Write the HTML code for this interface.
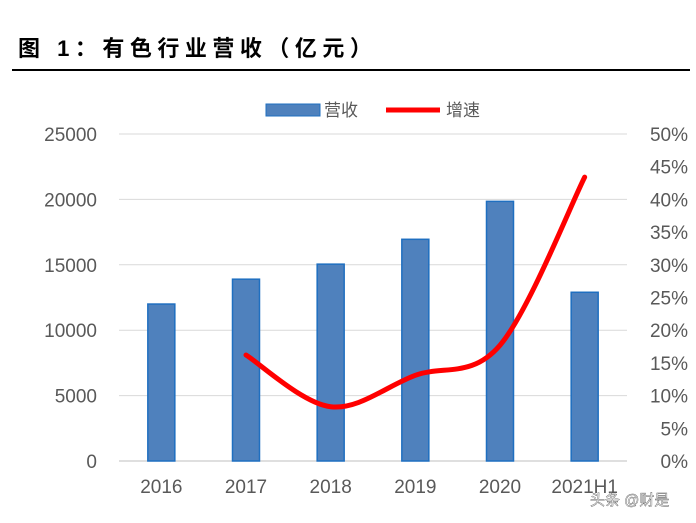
<!DOCTYPE html>
<html><head><meta charset="utf-8">
<style>
body{margin:0;background:#fff;width:696px;height:518px;overflow:hidden;font-family:"Liberation Sans","Noto Sans CJK SC",sans-serif;}
svg text{font-family:"Liberation Sans","Noto Sans CJK SC",sans-serif;}
</style></head><body>
<svg id="c" width="696" height="518">
<text x="18" y="56" font-size="22" font-weight="bold" letter-spacing="5.5" fill="#000">图 1：有色行业营收（亿元）</text>
<line x1="12" y1="70" x2="690" y2="70" stroke="#000" stroke-width="2"/>
<g id="grid"></g><g id="bars"></g><g id="line"></g><g id="axes"></g>
<g>
<rect x="266" y="104" width="54" height="12" fill="#4f81bd" stroke="#1f6fc0"/>
<text x="324" y="116" font-size="17" fill="#595959">营收</text>
<line x1="386" y1="110" x2="440" y2="110" stroke="#f00" stroke-width="5"/>
<text x="446" y="116" font-size="17" fill="#595959">增速</text>
</g>
<text x="590" y="505" font-size="15" fill="#fff" stroke="#555" stroke-width="0.4">头条 @财是</text>
</svg>
<script>
const categories=["2016","2017","2018","2019","2020","2021H1"];
const revenue=[12000,13900,15050,16950,19850,12900];
const growth=[null,16.2,8.3,13.1,17.7,43.4];
const leftTicks=[0,5000,10000,15000,20000,25000];
const rightTicks=[0,5,10,15,20,25,30,35,40,45,50];
const NS="http://www.w3.org/2000/svg";
const X0=119,X1=627,Y0=461,Y1=134;
const step=(X1-X0)/categories.length;
const xc=i=>X0+step*(i+0.5);
const yL=v=>Y0-(v/25000)*(Y0-Y1);
const yR=v=>Y0-(v/50)*(Y0-Y1);
function mk(t,a,p){const e=document.createElementNS(NS,t);for(const k in a)e.setAttribute(k,a[k]);p.appendChild(e);return e;}
const g=document.getElementById('grid'),b=document.getElementById('bars'),ln=document.getElementById('line'),ax=document.getElementById('axes');
leftTicks.forEach(v=>{
 const l=mk('line',{x1:X0,x2:X1,y1:yL(v),y2:yL(v),stroke:v===0?'#bfbfbf':'#d9d9d9','stroke-width':1},g);
 
 
 const t=mk('text',{x:97,y:yL(v)+7,'font-size':19,fill:'#595959','text-anchor':'end'},ax);t.textContent=v;
 
 
});
rightTicks.forEach(v=>{
 const t=mk('text',{x:688,y:yR(v)+7,'font-size':19,fill:'#595959','text-anchor':'end'},ax);t.textContent=v+'%';
 
 
});
categories.forEach((c,i)=>{
 const r=mk('rect',{x:xc(i)-13.5,y:yL(revenue[i]),width:27,height:Y0-yL(revenue[i]),fill:'#4f81bd',stroke:'#1f6fc0','stroke-width':1.5},b);
 
 
 const t=mk('text',{x:xc(i),y:493,'font-size':19,fill:'#595959','text-anchor':'middle'},ax);t.textContent=c;
 
 
});
const pts=[];growth.forEach((v,i)=>{if(v!==null)pts.push([xc(i),yR(v)]);});
let d='M'+pts[0][0]+','+pts[0][1];
for(let i=0;i<pts.length-1;i++){
 const p0=pts[Math.max(0,i-1)],p1=pts[i],p2=pts[i+1],p3=pts[Math.min(pts.length-1,i+2)];
 const c1=[p1[0]+(p2[0]-p0[0])/6,p1[1]+(p2[1]-p0[1])/6],c2=[p2[0]-(p3[0]-p1[0])/6,p2[1]-(p3[1]-p1[1])/6];
 d+=` C${c1[0]},${c1[1]} ${c2[0]},${c2[1]} ${p2[0]},${p2[1]}`;
}
const path=mk('path',{d:d,fill:'none',stroke:'#f00','stroke-width':5,'stroke-linecap':'round'},ln);


</script>
</body></html>
